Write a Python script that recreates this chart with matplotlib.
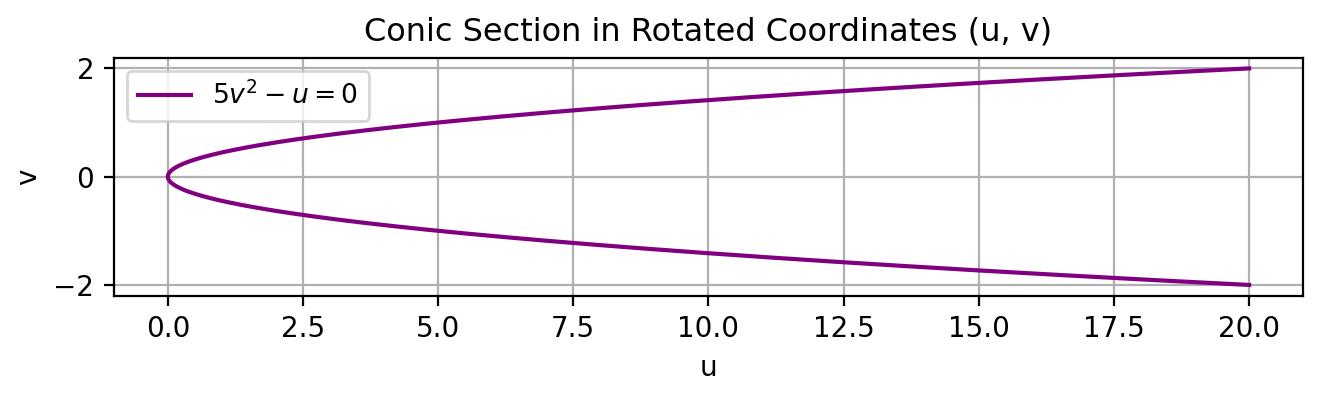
import matplotlib
matplotlib.use("Agg")
import matplotlib.pyplot as plt
import numpy as np

# conic 5v^2 - u = 0, shown for v in [-2, 2]
coef = 5
v_min, v_max = -2, 2
title = "Conic Section in Rotated Coordinates (u, v)"
legend_label = r"$5v^2 - u = 0$"

v = np.linspace(v_min, v_max, 400)
u = coef * v ** 2

fig, ax = plt.subplots(figsize=(6.615, 1.985), dpi=200)
ax.plot(u, v, color="purple", label=legend_label)
ax.set_title(title, fontsize=11.5)
ax.set_xlabel("u")
ax.set_ylabel("v")
ax.grid(True)
ax.legend(loc="upper left", fontsize=9.6)
fig.subplots_adjust(left=0.086, right=0.985, top=0.855, bottom=0.255)
fig.savefig("out.png", dpi=200)
